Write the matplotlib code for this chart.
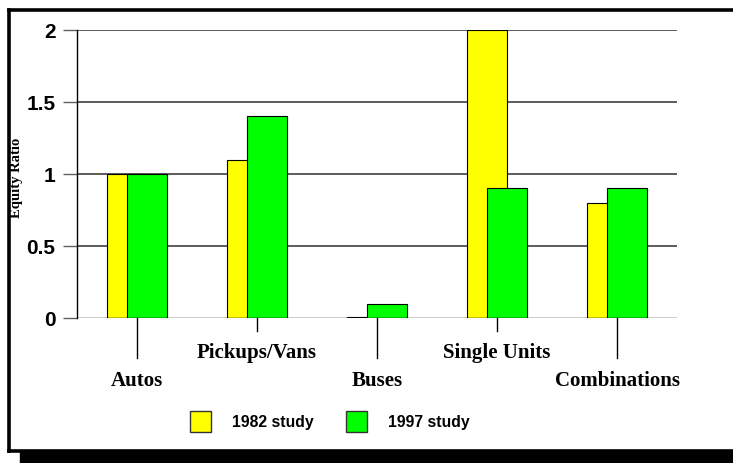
import numpy as np
import matplotlib.pyplot as plt
from matplotlib.patches import Rectangle
from matplotlib.lines import Line2D

# ====== data ======
categories = ["Autos", "Pickups/Vans", "Buses", "Single Units", "Combinations"]
study_1982 = [1.0, 1.1, 0.005, 2.0, 0.8]
study_1997 = [1.0, 1.4, 0.1, 0.9, 0.9]
series_names = ["1982 study", "1997 study"]
y_ticks = [0, 0.5, 1, 1.5, 2]
y_tick_labels = ["0", "0.5", "1", "1.5", "2"]
# ==================

W, H = 733, 464
fig = plt.figure(figsize=(W / 100, H / 100), dpi=100)


def fx(px):
    return px / W


def fy(py):
    return 1 - py / H


# -------- frame with drop shadow --------
fig.patches.append(Rectangle((fx(20), fy(464)), fx(740) - fx(20), fy(453) - fy(464),
                             transform=fig.transFigure, color="black", zorder=0))
for xs, ys in [([8.5, 8.5], [10.5, 451.5]),
               ([8.5, 733], [10.5, 10.5]),
               ([8.5, 733], [451.5, 451.5])]:
    fig.add_artist(Line2D([fx(v) for v in xs], [fy(v) for v in ys], color="black",
                          lw=2.6, transform=fig.transFigure, zorder=1,
                          solid_capstyle="projecting"))

# -------- axes --------
ax = fig.add_axes([fx(77), fy(319), fx(677) - fx(77), fy(31) - fy(319)])
ax.set_zorder(2)
ax.patch.set_alpha(0)

x = np.arange(len(categories))
bw = 1 / 3
off = 1 / 12
ax.bar(x - off, study_1982, width=bw, color="#ffff00", edgecolor="black",
       lw=0.8, zorder=3, label=series_names[0])
ax.bar(x + off, study_1997, width=bw, color="#00ff00", edgecolor="black",
       lw=0.8, zorder=4, label=series_names[1])

ax.set_xlim(-0.5, len(categories) - 0.5)
ax.set_ylim(0, 2)
ax.set_yticks(y_ticks)
ax.set_yticklabels(y_tick_labels, fontfamily="Liberation Sans", fontweight="bold",
                   fontsize=15)
ax.tick_params(axis="y", length=10, width=1, color="#606060", pad=5.5)
for yv in y_ticks[1:]:
    ax.axhline(yv, color="#404040", lw=1.2, zorder=1)
ax.axhline(0, color="black", lw=1, zorder=5)

ax.set_xticks([])
for sp in ["top", "right", "bottom"]:
    ax.spines[sp].set_visible(False)
ax.spines["left"].set_linewidth(1)

fig.text(fx(17), fy(178), "Equity Ratio", rotation=90, ha="center", va="center",
         fontfamily="Liberation Serif", fontweight="bold", fontsize=10.5)

# category ticks and staggered labels
for i, name in enumerate(categories):
    long_tick = i % 2 == 0
    y_end = 359 if long_tick else 332
    y_lab = 381 if long_tick else 353
    xf = fig.transFigure.inverted().transform(ax.transData.transform((i, 0)))[0]
    fig.add_artist(Line2D([xf, xf], [fy(319), fy(y_end)], color="black", lw=1,
                          transform=fig.transFigure, zorder=3))
    fig.text(xf, fy(y_lab), name, ha="center", va="center",
             fontfamily="Liberation Serif", fontweight="bold", fontsize=15)

# -------- legend --------
leg_items = [(190, "#ffff00", series_names[0]), (346, "#00ff00", series_names[1])]
for px, col, lab in leg_items:
    fig.patches.append(Rectangle((fx(px), fy(433)), fx(21), fy(412) - fy(433),
                                 transform=fig.transFigure, facecolor=col,
                                 edgecolor="#333333", lw=1, zorder=3))
    fig.text(fx(px + 42), fy(423), lab, ha="left", va="center",
             fontfamily="Liberation Sans", fontweight="bold", fontsize=11.3)

fig.savefig("out.png", dpi=100)
